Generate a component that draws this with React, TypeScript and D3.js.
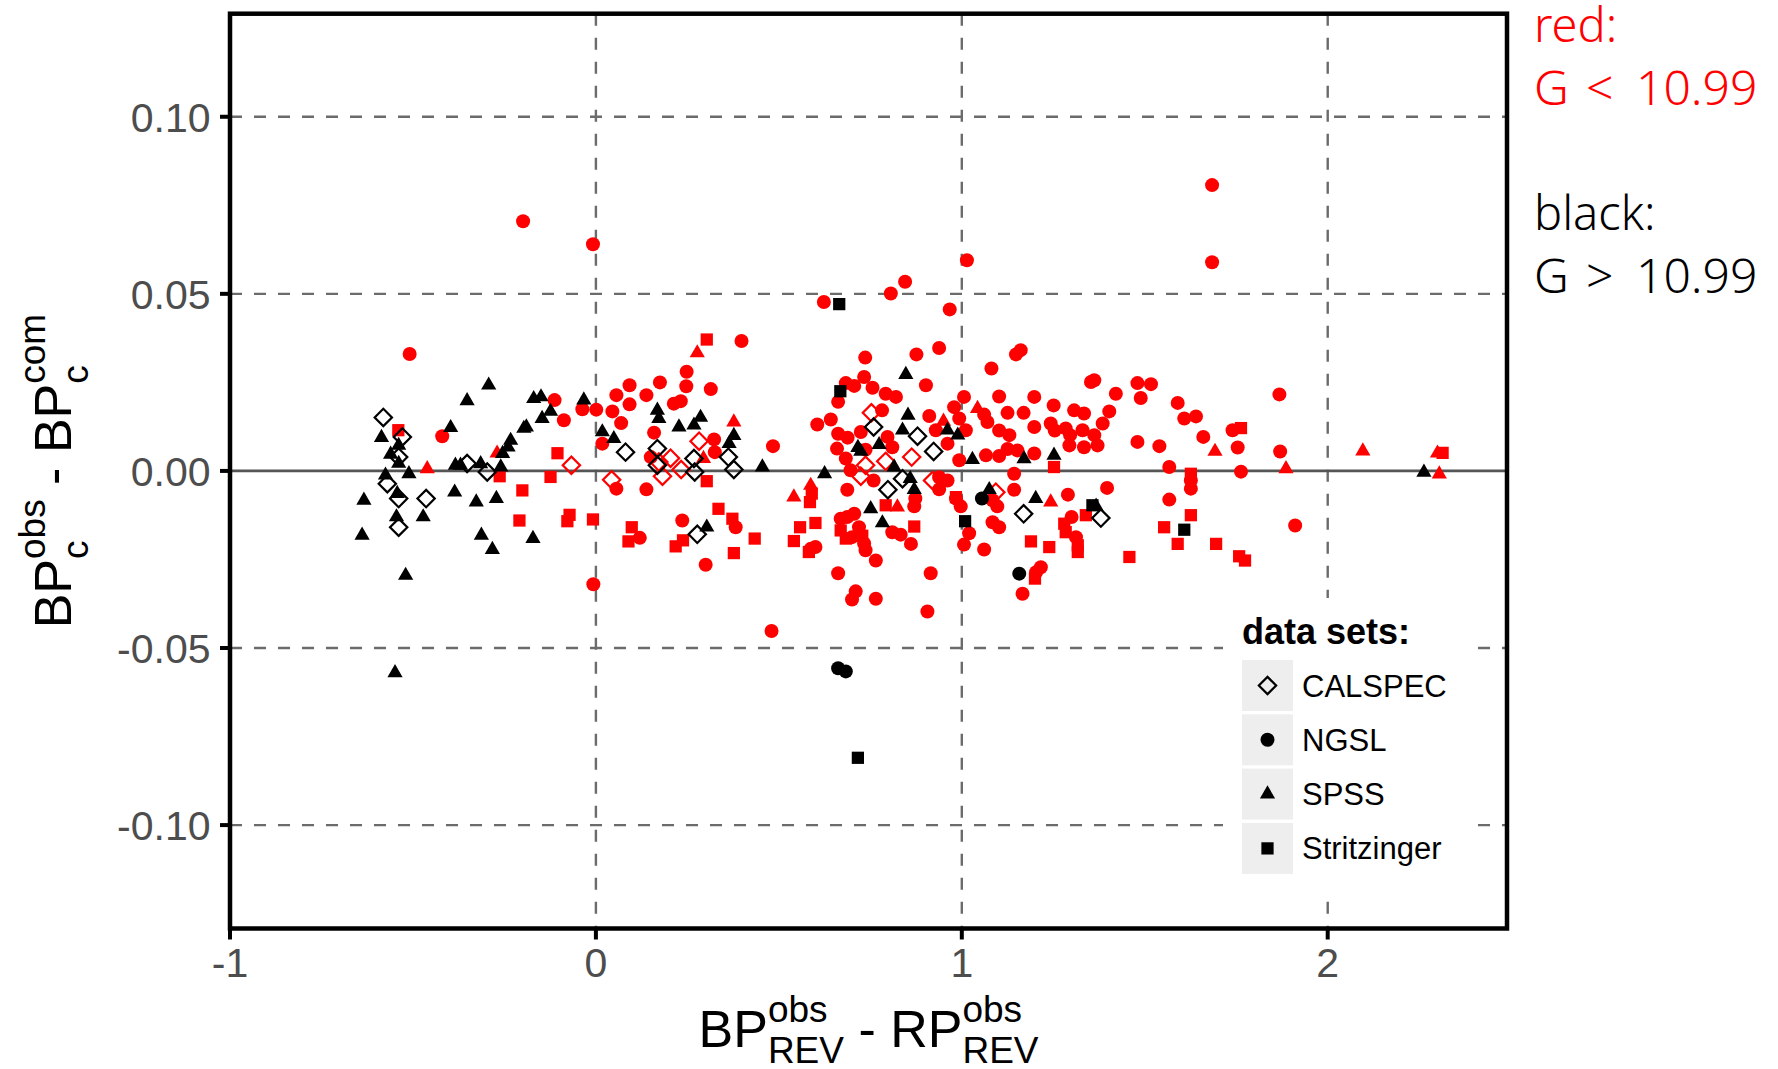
import React from 'react';
import * as d3 from 'd3';

type P = [number, number];

// ---- data (x = BP-RP colour, y = residual) ----
const ngslRed: P[] = [
  [-0.509, 0.033], [-0.42, 0.0098], [-0.113, 0.02], [-0.0875, 0.0143], [-0.037, 0.0174], [0.001, 0.0173],
  [0.0175, 0.0077], [0.045, 0.0168], [0.056, 0.0214], [0.092, 0.0242], [0.092, 0.0188], [0.069, 0.0135],
  [0.138, 0.0214], [0.175, 0.025], [0.159, 0.0108], [0.213, 0.019], [0.232, 0.0197], [0.248, 0.028],
  [0.247, 0.0239], [0.314, 0.0231], [0.398, 0.0367], [0.323, 0.0089], [0.325, 0.0053], [0.484, 0.007],
  [0.056, -0.005], [0.138, -0.0052], [0.15, 0.0039], [0.236, -0.014], [0.12, -0.0189], [0.3, -0.0265],
  [0.382, -0.0159], [-0.007, -0.032], [0.48, -0.0452], [-0.199, 0.0705], [-0.008, 0.064],
  [1.014, 0.0595], [0.845, 0.0534], [0.806, 0.0501], [0.623, 0.0477], [0.967, 0.0456], [0.938, 0.0347],
  [0.876, 0.0329], [0.736, 0.032], [1.148, 0.0329], [1.161, 0.0341], [1.081, 0.0289], [0.902, 0.0242],
  [0.733, 0.0265], [0.683, 0.0248], [0.706, 0.024], [0.756, 0.0235], [0.792, 0.0218], [0.82, 0.0209],
  [0.662, 0.0195], [0.782, 0.0171], [0.605, 0.0131], [0.642, 0.0145], [0.662, 0.0105], [0.659, 0.0063],
  [0.688, 0.0094], [0.724, 0.011], [0.737, 0.006], [0.797, 0.0096], [0.81, 0.0067], [1.006, 0.0209],
  [1.102, 0.021], [1.198, 0.0209], [0.979, 0.018], [0.993, 0.0148], [1.011, 0.0115], [0.911, 0.0155],
  [0.929, 0.0115], [0.961, 0.0077], [0.993, 0.003], [1.061, 0.0159], [1.07, 0.0138], [1.125, 0.0164],
  [1.169, 0.0164], [1.198, 0.0124], [1.102, 0.0114], [1.13, 0.0101], [1.125, 0.0062], [1.152, 0.0058],
  [1.066, 0.0044], [1.102, 0.0042], [1.198, 0.0049], [1.143, -0.0008], [1.143, -0.0053], [1.251, 0.0185],
  [1.243, 0.0134], [1.254, 0.0114], [1.284, 0.012], [1.296, 0.0101], [1.294, 0.0072], [1.307, 0.0171],
  [1.334, 0.0162], [1.33, 0.0115], [1.334, 0.0067], [1.371, 0.0072], [1.362, 0.0101], [1.385, 0.0134],
  [1.403, 0.0168], [1.421, 0.0218], [1.353, 0.0251], [1.362, 0.0256], [1.48, 0.0248], [1.517, 0.0245],
  [1.489, 0.0206], [1.59, 0.0192], [1.608, 0.0148], [1.64, 0.0154], [1.48, 0.0082], [1.54, 0.007],
  [1.567, 0.0011], [1.626, -0.0027], [1.626, -0.005], [1.567, -0.0081], [1.397, -0.0048], [1.29, -0.0067],
  [1.312, -0.0187], [1.3, -0.013], [1.216, -0.0272], [1.203, -0.0286], [1.166, -0.0347], [1.061, -0.0222],
  [1.006, -0.0208], [1.02, -0.0176], [1.102, -0.0159], [1.084, -0.0145], [1.097, -0.01], [1.084, -0.0083],
  [0.984, -0.0078], [0.997, -0.01], [0.915, -0.0289], [0.906, -0.0397], [0.765, -0.0361], [0.71, -0.034],
  [0.7, -0.0363], [0.662, -0.0289], [0.765, -0.0253], [0.737, -0.0224], [0.861, -0.0206], [0.833, -0.018],
  [0.81, -0.0173], [0.87, -0.01], [0.873, -0.0078], [0.938, -0.0052], [0.961, -0.0027], [0.938, -0.0018],
  [0.687, -0.0053], [0.687, -0.013], [0.669, -0.0135], [0.706, -0.0121], [0.719, -0.0159], [0.7, -0.0187],
  [0.733, -0.0205], [0.587, -0.022], [0.6, -0.0215], [0.759, -0.0027], [0.696, 0.0002], [0.683, 0.0035],
  [1.868, 0.0216], [1.66, 0.0096], [1.74, 0.0115], [1.754, 0.0066], [1.87, 0.0055], [1.763, -0.0002],
  [1.911, -0.0154], [1.684, 0.0807], [1.684, 0.0589],
];
const ngslBlack: P[] = [[1.055, -0.0078], [1.157, -0.029], [0.662, -0.0557], [0.683, -0.0566]];

const spssRed: P[] = [
  [-0.461, 0.0006], [-0.27, 0.005], [0.277, 0.0333], [0.377, 0.0138], [0.294, 0.0035], [1.043, 0.0176],
  [0.95, 0.014], [0.541, -0.0074], [0.587, -0.0041], [0.824, -0.0102], [1.243, -0.0088], [1.692, 0.0055],
  [1.886, 0.0006], [2.096, 0.0056], [2.3, 0.005], [2.305, -0.0009],
];
const spssBlack: P[] = [
  [-0.293, 0.0242], [-0.352, 0.0198], [-0.397, 0.0122], [-0.586, 0.0094], [-0.561, 0.0047], [-0.539, 0.0072],
  [-0.539, 0.0021], [-0.511, -0.0008], [-0.575, -0.0012], [-0.634, -0.0083], [-0.639, -0.0182], [-0.543, -0.0064],
  [-0.545, -0.013], [-0.472, -0.013], [-0.52, -0.0295], [-0.384, 0.0016], [-0.37, 0.0016], [-0.315, 0.002],
  [-0.386, -0.006], [-0.327, -0.0088], [-0.272, -0.0078], [-0.313, -0.0182], [-0.283, -0.0222], [-0.172, -0.0191],
  [-0.26, 0.0011], [-0.255, 0.0049], [-0.233, 0.0086], [-0.24, 0.0067], [-0.197, 0.012], [-0.19, 0.0124],
  [-0.147, 0.0148], [-0.124, 0.0168], [-0.17, 0.0204], [-0.15, 0.0209], [-0.033, 0.02], [0.0175, 0.011],
  [0.049, 0.0091], [0.168, 0.0171], [0.172, 0.0148], [0.227, 0.0124], [0.268, 0.0129], [0.286, 0.0151],
  [0.364, 0.0077], [0.377, 0.01], [0.455, 0.0011], [0.303, -0.0159], [-0.549, -0.057],
  [0.625, -0.0008], [0.847, 0.0272], [0.853, 0.0157], [0.838, 0.0115], [0.716, 0.0066], [0.724, 0.0055],
  [0.774, 0.0074], [0.961, 0.0115], [0.989, 0.0101], [1.029, 0.0032], [1.17, 0.0034], [1.252, 0.0044],
  [0.815, 0.0011], [0.859, -0.0022], [0.87, -0.0053], [1.075, -0.0053], [1.202, -0.0078], [0.751, -0.0107],
  [0.783, -0.0147], [1.367, -0.01], [2.263, -0.0004],
];

const stritzRed: P[] = [
  [-0.54, 0.0115], [0.303, 0.0371], [-0.105, 0.005], [-0.263, -0.0015], [-0.124, -0.0017], [-0.201, -0.0055],
  [-0.209, -0.014], [-0.072, -0.0124], [-0.078, -0.0142], [-0.008, -0.0137], [0.098, -0.0159], [0.089, -0.0199],
  [0.218, -0.0213], [0.238, -0.0196], [0.335, -0.0107], [0.373, -0.0135], [0.434, -0.0191], [0.377, -0.0232],
  [0.303, -0.0029], [0.541, -0.0198], [0.558, -0.0159], [0.6, -0.0147], [0.582, -0.0229], [0.585, -0.0088],
  [0.59, -0.0064], [0.669, -0.0168], [0.683, -0.0191], [0.728, -0.0183], [0.792, -0.0097], [0.87, -0.0157],
  [0.984, -0.0074], [1.189, -0.0199], [1.239, -0.0215], [1.2, -0.0304], [1.28, -0.0149], [1.284, -0.0173],
  [1.317, -0.021], [1.317, -0.0229], [1.339, -0.0125], [1.458, -0.0243], [1.553, -0.0159], [1.59, -0.0206],
  [1.626, -0.0125], [1.252, 0.0011], [1.626, -0.0008], [1.763, 0.0121], [2.314, 0.0051], [1.695, -0.0206],
  [1.758, -0.0241], [1.774, -0.0253],
];
const stritzBlack: P[] = [[0.665, 0.0471], [0.668, 0.0225], [1.009, -0.0142], [1.357, -0.0097], [1.608, -0.0166], [0.716, -0.081]];

const calspecRed: P[] = [
  [-0.067, 0.0016], [0.043, -0.0025], [0.172, 0.0025], [0.204, 0.0036], [0.182, -0.0015], [0.233, 0.0004],
  [0.282, 0.0084], [0.753, 0.0164], [0.737, 0.0016], [0.724, -0.0015], [0.792, 0.0027], [0.863, 0.0039],
  [0.92, -0.0027], [1.093, -0.006],
];
const calspecBlack: P[] = [
  [-0.581, 0.0151], [-0.529, 0.0096], [-0.539, 0.0039], [-0.57, -0.0036], [-0.539, -0.0078], [-0.539, -0.0159],
  [-0.464, -0.0078], [-0.352, 0.0021], [-0.297, -0.0003], [0.081, 0.0053], [0.168, 0.0063], [0.168, 0.0016],
  [0.268, 0.0035], [0.27, -0.0003], [0.362, 0.0039], [0.377, 0.0004], [0.277, -0.0179], [0.759, 0.0124],
  [0.879, 0.0098], [0.923, 0.0055], [0.838, -0.0022], [0.798, -0.0053], [1.169, -0.0121], [1.38, -0.0133],
];

const xTicks = [-1, 0, 1, 2];
const xTickLabels = ['-1', '0', '1', '2'];
const yTicks = [-0.1, -0.05, 0, 0.05, 0.1];
const yTickLabels = ['-0.10', '-0.05', '0.00', '0.05', '0.10'];
const xGrid = [0, 1, 2];
const yGrid = [-0.1, -0.05, 0.05, 0.1];
const legendLabels = ['CALSPEC', 'NGSL', 'SPSS', 'Stritzinger'];
const legendShapes = ['diamond', 'circle', 'triangle', 'square'];

const W = 1778, H = 1069;
const PL = 230, PR = 1507, PT = 13.7, PB = 928.5;
const RED = '#FF0000';
const SANS = '"Liberation Sans", Arial, Helvetica, sans-serif';

export default function App() {
  const x = d3.scaleLinear().domain([-1, 2.49]).range([PL, PR]);
  const y = d3.scaleLinear().domain([-0.1292, 0.1291]).range([PB, PT]);

  const paths: Record<string, string> = {
    circle: d3.symbol(d3.symbolCircle, Math.PI * 7 * 7)() as string,
    triangle: d3.symbol(d3.symbolTriangle, 100)() as string,
    square: d3.symbol(d3.symbolSquare, 150)() as string,
    diamond: d3.symbol(d3.symbolSquare, 150)() as string,
  };

  const mark = (shape: string, color: string, key: string, px: number, py: number) => {
    if (shape === 'diamond') {
      return (
        <path key={key} d={paths.diamond} transform={`translate(${px},${py}) rotate(45)`}
          fill="none" stroke={color} strokeWidth={2.2} />
      );
    }
    return <path key={key} d={paths[shape]} transform={`translate(${px},${py})`} fill={color} />;
  };

  const layer = (data: P[], shape: string, color: string, id: string) =>
    data.map((d, i) => mark(shape, color, `${id}${i}`, x(d[0]), y(d[1])));

  // axis title layout (Liberation Sans metrics)
  const F = 52, S = 37;
  const wBP = 1.334 * F, wRP = 1.389 * F, wMinus = 0.333 * F, wSp = 0.278 * F;
  const wObs = 1.612 * S, wRev = 2.056 * S, wCom = 1.889 * S;
  const xTitleW = wBP + wRev + 2 * wSp + wMinus + wRP + wRev;
  const xt0 = (PL + PR) / 2 - xTitleW / 2;
  const xtBase = 1047;
  const yTitleW = wBP + wObs + 2 * wSp + wMinus + wBP + wCom;
  const yt0 = -yTitleW / 2;

  const legX = 1242, keyY0 = 660, keySize = 51, keyPitch = 54.3;

  return (
    <svg width={W} height={H} style={{ position: 'absolute', left: 0, top: 0, background: '#fff' }}>
      <rect x={0} y={0} width={W} height={H} fill="#fff" />
      {/* grid */}
      {xGrid.map((g) => (
        <line key={'gx' + g} x1={x(g)} x2={x(g)} y1={PT} y2={PB} stroke="#6b6b6b" strokeWidth={2.4} strokeDasharray="12 12" />
      ))}
      {yGrid.map((g) => (
        <line key={'gy' + g} x1={PL} x2={PR} y1={y(g)} y2={y(g)} stroke="#6b6b6b" strokeWidth={2.4} strokeDasharray="12 12" />
      ))}
      <line x1={PL} x2={PR} y1={y(0)} y2={y(0)} stroke="#555" strokeWidth={2.6} />

      {/* points */}
      {layer(ngslRed, 'circle', RED, 'nr')}
      {layer(stritzRed, 'square', RED, 'sr')}
      {layer(spssRed, 'triangle', RED, 'pr')}
      {layer(calspecRed, 'diamond', RED, 'cr')}
      {layer(ngslBlack, 'circle', '#000', 'nb')}
      {layer(stritzBlack, 'square', '#000', 'sb')}
      {layer(spssBlack, 'triangle', '#000', 'pb')}
      {layer(calspecBlack, 'diamond', '#000', 'cb')}

      {/* panel border */}
      <rect x={PL} y={PT} width={PR - PL} height={PB - PT} fill="none" stroke="#000" strokeWidth={4.5} />

      {/* legend */}
      <rect x={1223} y={598} width={244} height={299} fill="#fff" />
      <text x={legX} y={644} fontFamily={SANS} fontWeight="bold" fontSize={36} fill="#000">data sets:</text>
      {legendLabels.map((lab, i) => {
        const ky = keyY0 + i * keyPitch;
        return (
          <g key={'lg' + i}>
            <rect x={legX} y={ky} width={keySize} height={keySize} fill="#EEEEEE" />
            {mark(legendShapes[i], '#000', 'lm' + i, legX + keySize / 2, ky + keySize / 2)}
            <text x={1302} y={ky + keySize / 2 + 11} fontFamily={SANS} fontSize={31} fill="#000">{lab}</text>
          </g>
        );
      })}

      {/* ticks */}
      {yTicks.map((t, i) => (
        <g key={'yt' + i}>
          <line x1={PL - 10} x2={PL} y1={y(t)} y2={y(t)} stroke="#000" strokeWidth={4} />
          <text x={210.5} y={y(t)} dy="0.36em" textAnchor="end" fontFamily={SANS} fontSize={41} fill="#4D4D4D">{yTickLabels[i]}</text>
        </g>
      ))}
      {xTicks.map((t, i) => (
        <g key={'xt' + i}>
          <line x1={x(t)} x2={x(t)} y1={PB} y2={PB + 11} stroke="#000" strokeWidth={4} />
          <text x={x(t)} y={977} textAnchor="middle" fontFamily={SANS} fontSize={41} fill="#4D4D4D">{xTickLabels[i]}</text>
        </g>
      ))}

      {/* x title */}
      <g fontFamily={SANS} fill="#000">
        <text x={xt0} y={xtBase} fontSize={F}>BP</text>
        <text x={xt0 + wBP} y={xtBase - 25} fontSize={S}>obs</text>
        <text x={xt0 + wBP} y={xtBase + 16} fontSize={S}>REV</text>
        <text x={xt0 + wBP + wRev + wSp} y={xtBase} fontSize={F}>-</text>
        <text x={xt0 + wBP + wRev + 2 * wSp + wMinus} y={xtBase} fontSize={F}>RP</text>
        <text x={xt0 + wBP + wRev + 2 * wSp + wMinus + wRP} y={xtBase - 25} fontSize={S}>obs</text>
        <text x={xt0 + wBP + wRev + 2 * wSp + wMinus + wRP} y={xtBase + 16} fontSize={S}>REV</text>
      </g>

      {/* y title */}
      <g fontFamily={SANS} fill="#000" transform={`translate(71,${(PT + PB) / 2}) rotate(-90)`}>
        <text x={yt0} y={0} fontSize={F}>BP</text>
        <text x={yt0 + wBP} y={-26} fontSize={S}>obs</text>
        <text x={yt0 + wBP} y={17} fontSize={S}>c</text>
        <text x={yt0 + wBP + wObs + wSp} y={0} fontSize={F}>-</text>
        <text x={yt0 + wBP + wObs + 2 * wSp + wMinus} y={0} fontSize={F}>BP</text>
        <text x={yt0 + 2 * wBP + wObs + 2 * wSp + wMinus} y={-26} fontSize={S}>com</text>
        <text x={yt0 + 2 * wBP + wObs + 2 * wSp + wMinus} y={17} fontSize={S}>c</text>
      </g>

      {/* right annotation */}
      <g fontFamily='"Noto Sans", sans-serif' fontWeight={300}>
        <text x={1534} y={42} fontSize={47} fill={RED}>red:</text>
        <text y={105} fontSize={48} fill={RED}>
          <tspan x={1534}>G</tspan>
          <tspan x={1586}>&lt;</tspan>
          <tspan x={1636}>10.99</tspan>
        </text>
        <text x={1534} y={230} fontSize={47} fill="#000">black:</text>
        <text y={293} fontSize={48} fill="#000">
          <tspan x={1534}>G</tspan>
          <tspan x={1586}>&gt;</tspan>
          <tspan x={1636}>10.99</tspan>
        </text>
      </g>
    </svg>
  );
}
